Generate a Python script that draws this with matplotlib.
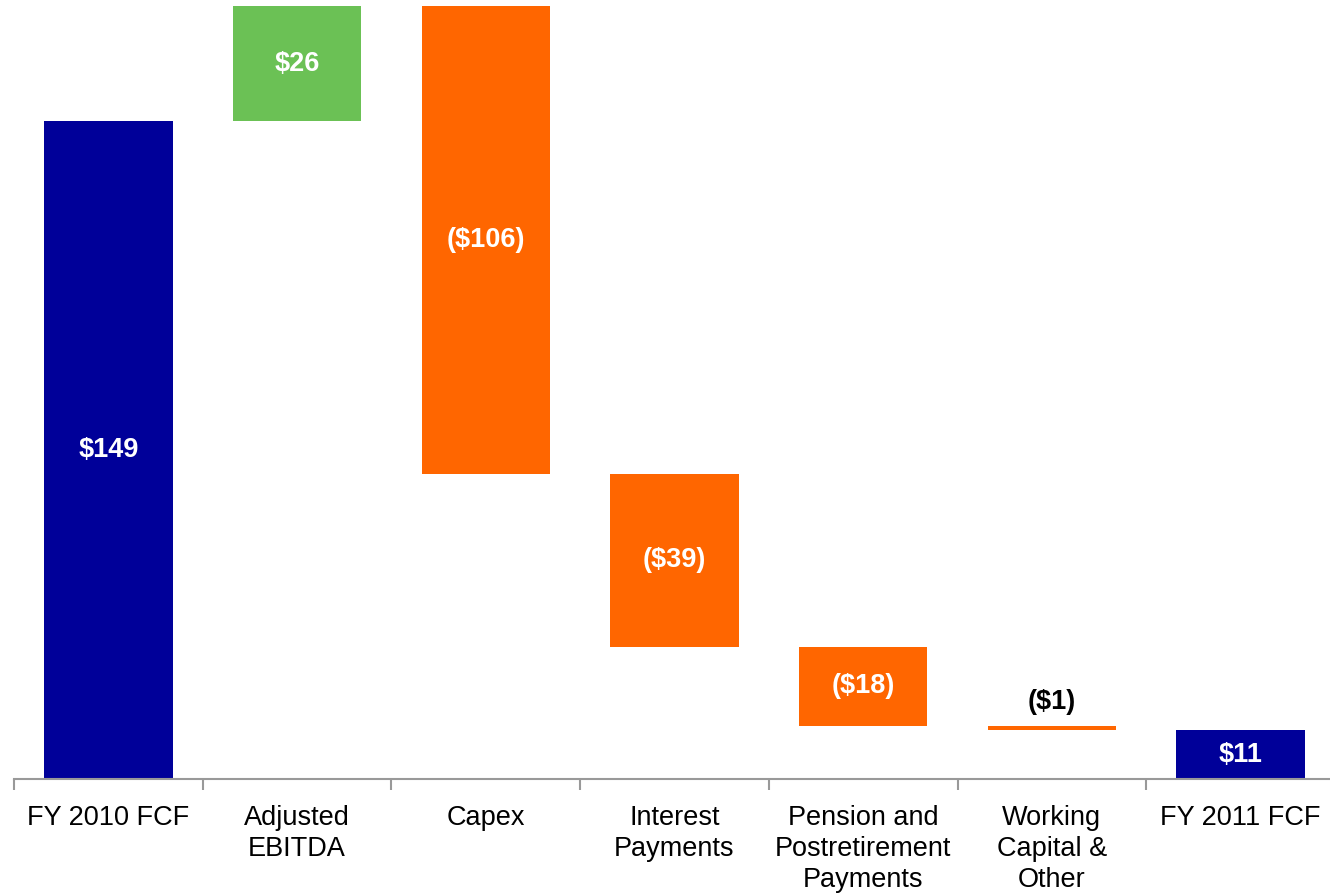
import matplotlib.pyplot as plt
import numpy as np

plt.rcParams['font.family'] = ['Liberation Sans', 'DejaVu Sans']

# Free cash flow bridge, FY 2010 -> FY 2011 ($ millions)
categories = ["FY 2010 FCF", "Adjusted\nEBITDA", "Capex", "Interest\nPayments",
              "Pension and\nPostretirement\nPayments", "Working\nCapital &\nOther", "FY 2011 FCF"]
changes = [149, 26, -106, -39, -18, -1, 11]
kinds = ["total", "up", "down", "down", "down", "down", "total"]
labels = ["$149", "$26", "($106)", "($39)", "($18)", "($1)", "$11"]

colors = {"total": "#000099", "up": "#6BC155", "down": "#FF6600"}

# running level for the floating bars
bottoms = []
heights = []
level = 0
for val, kind in zip(changes, kinds):
    if kind == "total":
        bottoms.append(0)
        heights.append(val)
        level = val
    else:
        if val >= 0:
            bottoms.append(level)
        else:
            bottoms.append(level + val)
        heights.append(abs(val))
        level += val

fig = plt.figure(figsize=(13.3, 8.93), dpi=100)
ax = fig.add_axes([14 / 1330, 1 - 779 / 893, 1321 / 1330, 779 / 893])

x = np.arange(len(categories))
ax.bar(x, heights, bottom=bottoms, width=0.68,
       color=[colors[k] for k in kinds], zorder=2)

for i, (b, h, lab) in enumerate(zip(bottoms, heights, labels)):
    if h < 5:
        ax.text(i, b + h + 2.6, lab, ha='center', va='bottom', color='black',
                fontsize=19.5, fontweight='bold')
    else:
        ax.text(i, b + h / 2, lab, ha='center', va='center', color='white',
                fontsize=19.5, fontweight='bold')

ax.set_xlim(-0.5, len(categories) - 0.5)
ax.set_ylim(0, 176.4)

for side in ['top', 'right', 'left']:
    ax.spines[side].set_visible(False)
ax.spines['bottom'].set_color('#999999')
ax.spines['bottom'].set_linewidth(1.5)

ax.set_yticks([])
ax.set_xticks(np.arange(len(categories) + 1) - 0.5, minor=True)
ax.set_xticks(x)
ax.set_xticklabels(categories, fontsize=19.5, linespacing=1.25)
ax.tick_params(axis='x', which='major', length=0, pad=19)
ax.tick_params(axis='x', which='minor', length=8, width=1.5, color='#999999')

fig.savefig('out.png', dpi=100)
